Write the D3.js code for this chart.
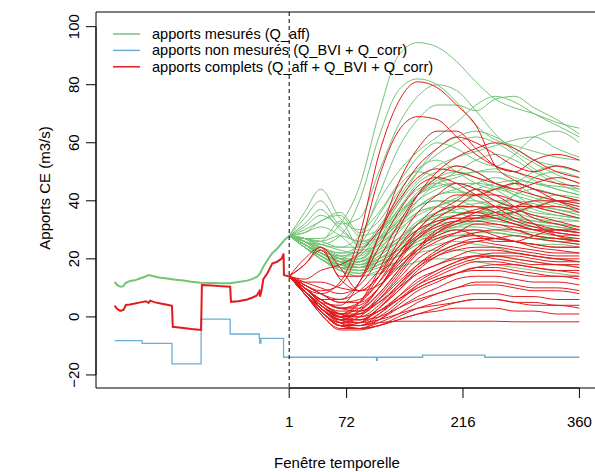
<!DOCTYPE html>
<html>
<head>
<meta charset="utf-8">
<script src="https://cdn.jsdelivr.net/npm/d3@7"></script>
<style>
  body { margin: 0; background: white; }
  text { font-family: "Liberation Sans", Arial, sans-serif; fill: black; }
</style>
</head>
<body>
<div id="chart"></div>
<script>
// Apports CE - past observations + forecast ensemble (hourly, window 1..360)

// x ticks / y ticks
const xTicks = [1, 72, 216, 360];
const yTicks = [-20, 0, 20, 40, 60, 80, 100];

// past window, measured inflows (Q_aff)
const pastGreen = [
  [-215, 12.1], [-212, 11.0], [-208, 10.4], [-204, 10.6], [-202, 11.6], [-196, 12.4],
  [-190, 12.6], [-183, 13.3], [-176, 14.0], [-173, 14.4], [-168, 14.1], [-160, 13.6],
  [-150, 13.2], [-142, 12.9], [-130, 12.5], [-120, 12.1], [-109, 11.8], [-95, 11.7],
  [-85, 11.6], [-72, 11.6], [-62, 12.0], [-51, 12.5], [-45, 13.0], [-39, 13.8],
  [-35, 15.0], [-31, 17.3], [-26, 19.5], [-20, 22.0], [-14, 23.5], [-8, 25.4],
  [-4, 26.8], [1, 27.9]
];

// past window, complete inflows
const pastRed = [
  [-215, 3.9], [-212, 2.8], [-208, 2.1], [-204, 2.4], [-201, 4.1], [-196, 4.3],
  [-190, 4.6], [-183, 5.0], [-176, 5.4], [-173, 4.8], [-171, 5.6], [-165, 5.0],
  [-158, 4.6], [-150, 4.2], [-144, 3.8], [-143, -3.4], [-130, -3.8], [-120, -4.2],
  [-108, -4.5], [-107, 11.0], [-95, 10.8], [-85, 10.6], [-72, 10.4], [-71, 5.2],
  [-62, 5.4], [-51, 6.0], [-45, 6.6], [-39, 7.4], [-36, 8.8], [-35, 7.0],
  [-33, 9.5], [-31, 13.0], [-26, 15.0], [-20, 18.4], [-14, 19.0], [-8, 20.2],
  [-6, 21.8], [-5.5, 14.4], [1, 13.9]
];

// unmeasured inflows (Q_BVI + Q_corr), step values
const blueSteps = [
  [-215, -8.2], [-181, -9.1], [-144, -16.2], [-108, -0.8], [-72, -5.9],
  [-36, -7.4], [-35.5, -9.0], [-34, -7.4], [-6, -13.9], [108, -13.9],
  [109, -15.0], [110, -13.9], [166, -13.2], [243, -13.9], [360, -13.9]
];

// forecast knots (hours)
const knots = [1, 20, 40, 64, 88, 112, 136, 160, 184, 208, 232, 256, 280, 304, 332, 360];

const greenMembers = [
  [28, 27, 27, 32, 45, 70, 90, 94.5, 93, 88, 81, 75, 72, 70, 67, 65],
  [28, 26, 25, 28, 40, 62, 78, 82, 80, 74, 66, 61, 59, 57, 55, 54],
  [28, 34, 40, 32, 34, 50, 66, 76, 80, 78, 71, 63, 57, 53, 49, 46],
  [28, 25, 22, 20, 26, 42, 58, 68, 73, 73, 71, 75, 76, 72, 68, 63],
  [28, 27, 25, 24, 28, 40, 50, 57, 62, 67, 73, 76, 74, 70, 66, 62],
  [28, 36, 44, 34, 30, 36, 46, 55, 60, 58, 54, 52, 56, 62, 64, 60],
  [28, 26, 23, 21, 23, 31, 41, 50, 56, 60, 62, 60, 56, 51, 47, 44],
  [28, 25, 22, 19, 21, 29, 39, 47, 52, 55, 57, 59, 61, 62, 58, 55],
  [28, 30, 33, 36, 29, 33, 43, 51, 54, 50, 46, 44, 46, 50, 52, 50],
  [28, 26, 24, 22, 25, 35, 45, 50, 48, 44, 40, 38, 42, 48, 50, 48],
  [28, 24, 21, 18, 19, 27, 37, 46, 50, 52, 50, 46, 42, 40, 38, 37],
  [28, 27, 26, 24, 24, 29, 35, 42, 46, 48, 50, 50, 48, 46, 45, 44],
  [28, 32, 37, 30, 26, 29, 37, 44, 46, 44, 42, 44, 46, 44, 42, 40],
  [28, 25, 22, 20, 20, 25, 33, 40, 44, 46, 44, 40, 38, 40, 42, 41],
  [28, 26, 23, 21, 21, 26, 32, 38, 42, 44, 46, 48, 46, 42, 40, 38],
  [28, 24, 20, 17, 17, 23, 31, 38, 40, 40, 38, 36, 36, 38, 40, 39],
  [28, 27, 26, 33, 24, 27, 33, 38, 40, 38, 36, 38, 42, 44, 42, 40],
  [28, 26, 22, 19, 19, 24, 29, 36, 38, 40, 40, 38, 36, 34, 33, 33],
  [28, 25, 21, 18, 18, 22, 27, 33, 36, 38, 38, 36, 34, 33, 32, 31],
  [28, 29, 31, 28, 23, 25, 31, 36, 38, 36, 34, 34, 36, 38, 37, 35],
  [28, 24, 20, 17, 17, 21, 26, 32, 35, 36, 36, 35, 33, 32, 31, 30],
  [28, 26, 23, 20, 19, 23, 27, 32, 34, 35, 36, 36, 35, 33, 32, 31],
  [28, 25, 21, 18, 17, 20, 25, 30, 33, 34, 34, 33, 32, 31, 30, 29],
  [28, 24, 20, 17, 16, 19, 23, 28, 31, 32, 32, 31, 30, 29, 28, 28],
  [28, 27, 24, 21, 19, 22, 26, 30, 32, 33, 34, 34, 33, 32, 31, 30],
  [28, 25, 22, 19, 17, 19, 23, 27, 30, 31, 31, 30, 29, 28, 27, 27],
  [28, 24, 20, 16, 15, 18, 21, 26, 28, 30, 30, 29, 28, 27, 26, 26],
  [28, 26, 23, 20, 18, 20, 23, 27, 29, 30, 30, 29, 28, 27, 27, 26],
  [28, 25, 21, 18, 16, 18, 21, 25, 27, 28, 28, 27, 26, 25, 25, 24],
  [28, 24, 20, 16, 14, 16, 19, 23, 25, 26, 25, 24, 22, 21, 20, 19],
  [28, 26, 22, 19, 17, 19, 21, 25, 27, 28, 29, 29, 28, 27, 26, 25],
  [28, 25, 21, 17, 15, 17, 19, 22, 23, 23, 22, 21, 20, 19, 18, 17],
  [28, 24, 20, 16, 14, 15, 17, 19, 20, 20, 19, 18, 17, 16, 15, 14],
  [28, 27, 24, 20, 17, 19, 23, 29, 34, 38, 42, 44, 42, 38, 36, 34],
  [28, 25, 22, 19, 18, 23, 31, 40, 46, 50, 54, 56, 54, 50, 46, 43],
  [28, 31, 35, 31, 25, 29, 39, 50, 58, 62, 64, 62, 58, 54, 52, 50],
  [28, 26, 24, 22, 22, 27, 35, 43, 48, 50, 48, 44, 40, 37, 35, 34],
  [28, 25, 22, 19, 20, 26, 34, 42, 47, 49, 50, 51, 50, 47, 44, 42],
  [28, 27, 25, 23, 22, 25, 30, 35, 38, 41, 44, 46, 47, 46, 44, 42],
  [28, 26, 22, 19, 18, 21, 26, 32, 36, 38, 39, 40, 40, 39, 37, 36],
  [28, 24, 21, 18, 17, 20, 24, 29, 33, 35, 36, 37, 38, 38, 37, 35],
  [28, 27, 26, 28, 26, 27, 32, 38, 42, 43, 42, 40, 38, 36, 35, 34],
  [28, 25, 21, 18, 17, 19, 23, 27, 30, 32, 33, 33, 32, 31, 30, 29],
  [28, 26, 23, 20, 19, 22, 27, 32, 35, 37, 38, 38, 37, 35, 34, 33],
  [28, 29, 33, 35, 28, 30, 36, 42, 45, 46, 46, 45, 43, 41, 39, 37],
  [28, 24, 20, 17, 16, 18, 22, 26, 29, 31, 33, 34, 34, 33, 32, 31]
];

const redMembers = [
  [14, 10, 8, 12, 28, 56, 74, 81, 79, 73, 66, 52, 47, 44, 42, 40],
  [14, 11, 9, 11, 24, 48, 64, 69, 68, 62, 56, 52, 50, 48, 46, 45],
  [14, 20, 24, 14, 14, 28, 46, 58, 64, 64, 58, 52, 50, 54, 56, 54],
  [14, 9, 5, 4, 12, 28, 42, 52, 58, 62, 60, 56, 52, 50, 52, 50],
  [14, 8, 3, 0, 5, 16, 30, 42, 50, 55, 58, 60, 58, 54, 50, 48],
  [14, 12, 10, 8, 11, 20, 32, 42, 48, 52, 50, 46, 44, 46, 48, 46],
  [14, 9, 4, 1, 5, 14, 26, 36, 42, 46, 44, 40, 38, 38, 40, 40],
  [14, 18, 23, 13, 9, 14, 24, 32, 38, 42, 42, 44, 46, 44, 40, 37],
  [14, 8, 3, -1, 2, 10, 20, 30, 36, 40, 44, 42, 38, 34, 32, 30],
  [14, 10, 6, 3, 5, 12, 22, 28, 32, 35, 36, 34, 32, 30, 30, 30],
  [14, 9, 4, 0, 2, 8, 16, 24, 30, 33, 36, 38, 36, 32, 28, 26],
  [14, 8, 2, -2, 0, 6, 14, 22, 26, 29, 32, 32, 30, 28, 27, 26],
  [14, 11, 8, 5, 5, 10, 18, 24, 28, 30, 28, 26, 26, 28, 30, 29],
  [14, 9, 4, 0, 1, 6, 13, 20, 24, 27, 28, 27, 26, 25, 24, 24],
  [14, 8, 2, -3, -2, 3, 10, 17, 22, 25, 27, 27, 26, 24, 23, 22],
  [14, 10, 5, 2, 2, 6, 12, 18, 22, 25, 26, 25, 24, 23, 22, 22],
  [14, 9, 3, -1, -1, 3, 9, 15, 18, 21, 23, 23, 22, 21, 20, 20],
  [14, 8, 2, -3, -3, 1, 7, 13, 16, 19, 21, 21, 20, 19, 18, 18],
  [14, 10, 6, 3, 2, 5, 10, 15, 18, 20, 21, 20, 19, 18, 18, 17],
  [14, 9, 3, -1, -2, 1, 6, 11, 14, 17, 19, 19, 18, 17, 16, 16],
  [14, 8, 1, -4, -4, -1, 4, 9, 12, 15, 17, 17, 16, 15, 14, 14],
  [14, 10, 5, 1, 0, 2, 6, 10, 13, 15, 16, 16, 15, 14, 14, 13],
  [14, 9, 3, -2, -3, -1, 3, 7, 10, 13, 14, 14, 13, 12, 12, 11],
  [14, 8, 2, -3, -4, -2, 1, 5, 8, 10, 12, 12, 11, 10, 10, 9],
  [14, 10, 5, 1, -1, 0, 3, 6, 8, 10, 11, 11, 10, 9, 9, 8],
  [14, 9, 3, -2, -4, -3, 0, 3, 5, 7, 8, 8, 7, 7, 6, 6],
  [14, 8, 1, -4.5, -4.5, -3, -1, 1, 3, 5, 6, 6, 5, 5, 4, 4],
  [14, 9, 4, 0, -2, -1, 1, 3, 4, 5, 6, 6, 5, 4, 4, 3],
  [14, 8, 2, -3, -4, -3, -1, 1, 2, 3, 3, 3, 2, 2, 1, 1],
  [14, 9, 3, -1, -3, -2, -1.5, -1.5, -1.5, -1.5, -1.5, -1.5, -1.7, -1.7, -1.7, -1.7],
  [14, 13, 16, 18, 22, 30, 40, 48, 51, 50, 48, 46, 44, 42, 40, 38],
  [14, 10, 6, 6, 12, 24, 36, 45, 48, 46, 42, 38, 34, 32, 30, 29],
  [14, 9, 4, 1, 3, 10, 20, 28, 34, 38, 42, 42, 40, 38, 36, 34],
  [14, 11, 8, 6, 9, 16, 24, 30, 33, 34, 34, 35, 36, 38, 38, 36],
  [14, 18, 24, 17, 9, 11, 17, 23, 27, 29, 30, 28, 26, 25, 24, 24],
  [14, 10, 6, 3, 3, 8, 16, 24, 29, 32, 34, 36, 38, 40, 40, 39],
  [14, 9, 4, 0, 1, 7, 15, 23, 29, 33, 35, 34, 32, 30, 28, 27],
  [14, 10, 6, 3, 4, 10, 19, 27, 32, 35, 37, 38, 37, 35, 33, 31],
  [14, 8, 2, -2, -2, 3, 9, 16, 21, 24, 26, 27, 28, 27, 26, 25],
  [14, 9, 4, 0, 0, 4, 11, 18, 23, 27, 29, 30, 30, 28, 27, 26],
  [14, 11, 8, 5, 6, 12, 20, 27, 31, 33, 33, 32, 31, 30, 29, 28],
  [14, 8, 2, -3, -3, 0, 5, 11, 15, 18, 20, 21, 21, 20, 19, 19],
  [14, 10, 5, 1, 1, 5, 11, 17, 21, 23, 24, 24, 23, 22, 21, 21],
  [14, 9, 3, -1, -1, 2, 7, 12, 16, 19, 21, 22, 22, 21, 20, 19],
  [14, 12, 12, 10, 9, 14, 22, 30, 36, 38, 38, 36, 33, 31, 29, 28],
  [14, 9, 4, 0, -1, 2, 6, 10, 13, 15, 17, 18, 18, 17, 16, 15]
];

const legendLabels = [
  "apports mesurés (Q_aff)",
  "apports non mesurés (Q_BVI + Q_corr)",
  "apports complets (Q_aff + Q_BVI + Q_corr)"
];

const colGreen = "#74C476";
const colBlue = "#6BAED6";
const colRed = "#E31A1C";

const width = 595, height = 472;
const svg = d3.select("#chart").append("svg")
  .attr("width", width)
  .attr("height", height);

// plot region (R default 4% padding around the data)
const x = d3.scaleLinear().domain([-238, 383]).range([96, 598]);
const y = d3.scaleLinear().domain([-24.5, 105.05]).range([388, 12]);

svg.append("defs").append("clipPath").attr("id", "plotclip")
  .append("rect").attr("x", 96).attr("y", 12).attr("width", 502).attr("height", 376);

const plot = svg.append("g").attr("clip-path", "url(#plotclip)");

const lineXY = d3.line().x(d => x(d[0])).y(d => y(d[1]));
const lineMember = d3.line()
  .x((d, i) => x(knots[i]))
  .y(d => y(d))
  .curve(d3.curveMonotoneX);

// forecast ensemble, measured
greenMembers.forEach(m => {
  plot.append("path").attr("d", lineMember(m))
    .attr("fill", "none").attr("stroke", colGreen).attr("stroke-width", 1);
});

// unmeasured inflows
plot.append("path").attr("d", lineXY.curve(d3.curveStepAfter)(blueSteps))
  .attr("fill", "none").attr("stroke", colBlue).attr("stroke-width", 1.3);

// forecast ensemble, complete
redMembers.forEach(m => {
  plot.append("path").attr("d", lineMember(m))
    .attr("fill", "none").attr("stroke", colRed).attr("stroke-width", 1);
});

// past observed
lineXY.curve(d3.curveLinear);
plot.append("path").attr("d", lineXY(pastGreen))
  .attr("fill", "none").attr("stroke", colGreen).attr("stroke-width", 2);
plot.append("path").attr("d", lineXY(pastRed))
  .attr("fill", "none").attr("stroke", colRed).attr("stroke-width", 2);

// forecast start marker
svg.append("line")
  .attr("x1", x(1)).attr("x2", x(1))
  .attr("y1", 12).attr("y2", 388)
  .attr("stroke", "black").attr("stroke-width", 1)
  .attr("stroke-dasharray", "4,3");

// box
svg.append("path")
  .attr("d", "M598,12H96V388H598")
  .attr("fill", "none").attr("stroke", "black").attr("stroke-width", 1);

// x axis
const xAxis = svg.append("g");
xAxis.append("line")
  .attr("x1", x(1)).attr("x2", x(360)).attr("y1", 388).attr("y2", 388)
  .attr("stroke", "black");
xTicks.forEach(t => {
  xAxis.append("line")
    .attr("x1", x(t)).attr("x2", x(t)).attr("y1", 388).attr("y2", 398)
    .attr("stroke", "black");
  xAxis.append("text")
    .attr("x", x(t)).attr("y", 421)
    .attr("text-anchor", "middle").attr("dominant-baseline", "central")
    .attr("font-size", "15px")
    .text(t);
});

// y axis
const yAxis = svg.append("g");
yAxis.append("line")
  .attr("x1", 96).attr("x2", 96).attr("y1", y(-20)).attr("y2", y(100))
  .attr("stroke", "black");
yTicks.forEach(v => {
  yAxis.append("line")
    .attr("x1", 86).attr("x2", 96).attr("y1", y(v)).attr("y2", y(v))
    .attr("stroke", "black");
  yAxis.append("text")
    .attr("transform", `translate(73,${y(v)}) rotate(-90)`)
    .attr("text-anchor", "middle").attr("dominant-baseline", "central")
    .attr("font-size", "15px")
    .text(v < 0 ? "\u2212" + Math.abs(v) : v);
});

// axis titles
svg.append("text")
  .attr("x", 337).attr("y", 462)
  .attr("text-anchor", "middle").attr("dominant-baseline", "central")
  .attr("font-size", "15px")
  .text("Fenêtre temporelle");

svg.append("text")
  .attr("transform", "translate(44,188) rotate(-90)")
  .attr("text-anchor", "middle").attr("dominant-baseline", "central")
  .attr("font-size", "15px")
  .text("Apports CE (m3/s)");

// legend (no frame)
const legendCols = [colGreen, colBlue, colRed];
const legend = svg.append("g");
legendLabels.forEach((lab, i) => {
  const ly = 34 + i * 16.4;
  legend.append("line")
    .attr("x1", 113).attr("x2", 140).attr("y1", ly).attr("y2", ly)
    .attr("stroke", legendCols[i]).attr("stroke-width", 1.5);
  legend.append("text")
    .attr("x", 152).attr("y", ly)
    .attr("dominant-baseline", "central")
    .attr("font-size", "14.6px")
    .text(lab);
});
</script>
</body>
</html>
